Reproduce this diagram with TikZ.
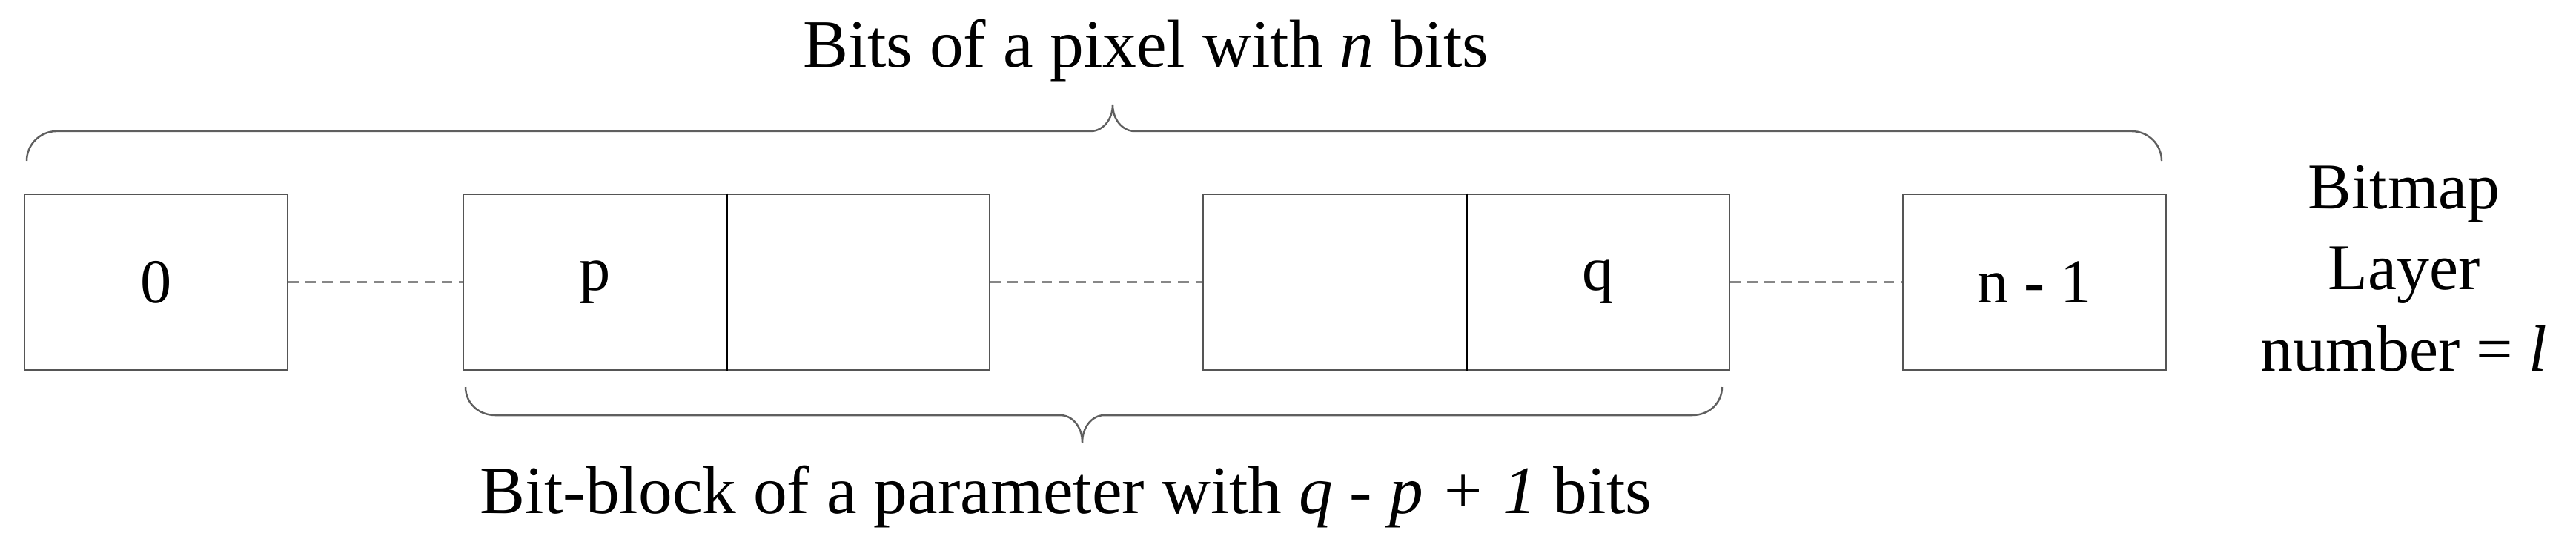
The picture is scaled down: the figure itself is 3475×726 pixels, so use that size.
\documentclass[tikz,border=0pt]{standalone}
\usepackage{fontspec}
\setmainfont{Liberation Serif}
\definecolor{boxgray}{RGB}{85,85,85}
\definecolor{dashgray}{RGB}{135,135,135}
\definecolor{bracegray}{RGB}{95,95,95}
\newcommand{\figfont}{\fontsize{24}{31.3}\selectfont}
\newcommand{\bracefont}{\fontsize{26}{31.3}\selectfont}
\newcommand{\sidefont}{\fontsize{25}{31.15}\selectfont}
\begin{document}
\begin{tikzpicture}[x=0.01cm,y=-0.01cm,
  cell/.style={draw=boxgray, line width=0.7pt, minimum width=3.55cm, minimum height=2.37cm, inner sep=0pt, font=\figfont},
  divider/.style={draw=black, line width=0.55pt},
  conn/.style={draw=dashgray, line width=0.7pt, dash pattern=on 0.14cm off 0.09cm},
  bracepath/.style={draw=bracegray, line width=0.7pt},
  lbl/.style={font=\bracefont, inner sep=0pt},
  sidelbl/.style={font=\sidefont, inner sep=0pt, align=center}]
\useasboundingbox (0,0) rectangle (3475,726);
% cells
\node[cell] (b0) at (210.5,380.5) {0};
\node[cell] (p1) at (802.5,380.5) {p};
\node[cell] (p2) at (1157.5,380.5) {};
\node[cell] (q1) at (1800.5,380.5) {};
\node[cell] (q2) at (2155.5,380.5) {q};
\node[cell] (bn) at (2744.5,380.5) {n - 1};
\draw[divider] (p1.north east) -- (p1.south east);
\draw[divider] (q1.north east) -- (q1.south east);
% dashed connectors
\draw[conn] (b0.east) -- (p1.west);
\draw[conn] (p2.east) -- (q1.west);
\draw[conn] (q2.east) -- (bn.west);
% top brace
\draw[bracepath] (36,217) .. controls (36,195) and (54,177) .. (76,177) -- (1471,177)
  .. controls (1488,177) and (1501,161) .. (1501,141)
  .. controls (1501,161) and (1514,177) .. (1531,177) -- (2876,177)
  .. controls (2898,177) and (2916,195) .. (2916,217);
% bottom brace
\draw[bracepath] (628,522) .. controls (628,544) and (646,560) .. (668,560) -- (1430,560)
  .. controls (1447,560) and (1460,576) .. (1460,597)
  .. controls (1460,576) and (1473,560) .. (1490,560) -- (2283,560)
  .. controls (2305,560) and (2323,544) .. (2323,522);
% labels
\node[lbl, anchor=base] (toplbl) at (1546,90) {Bits of a pixel with \textit{n} bits};
\node[lbl, anchor=base] (botlbl) at (1438,692) {Bit-block of a parameter with \textit{q - p + 1} bits};
\node[sidelbl] (layer) at (3243,362) {Bitmap\\Layer\\number = \textit{l}};
\end{tikzpicture}
\end{document}
